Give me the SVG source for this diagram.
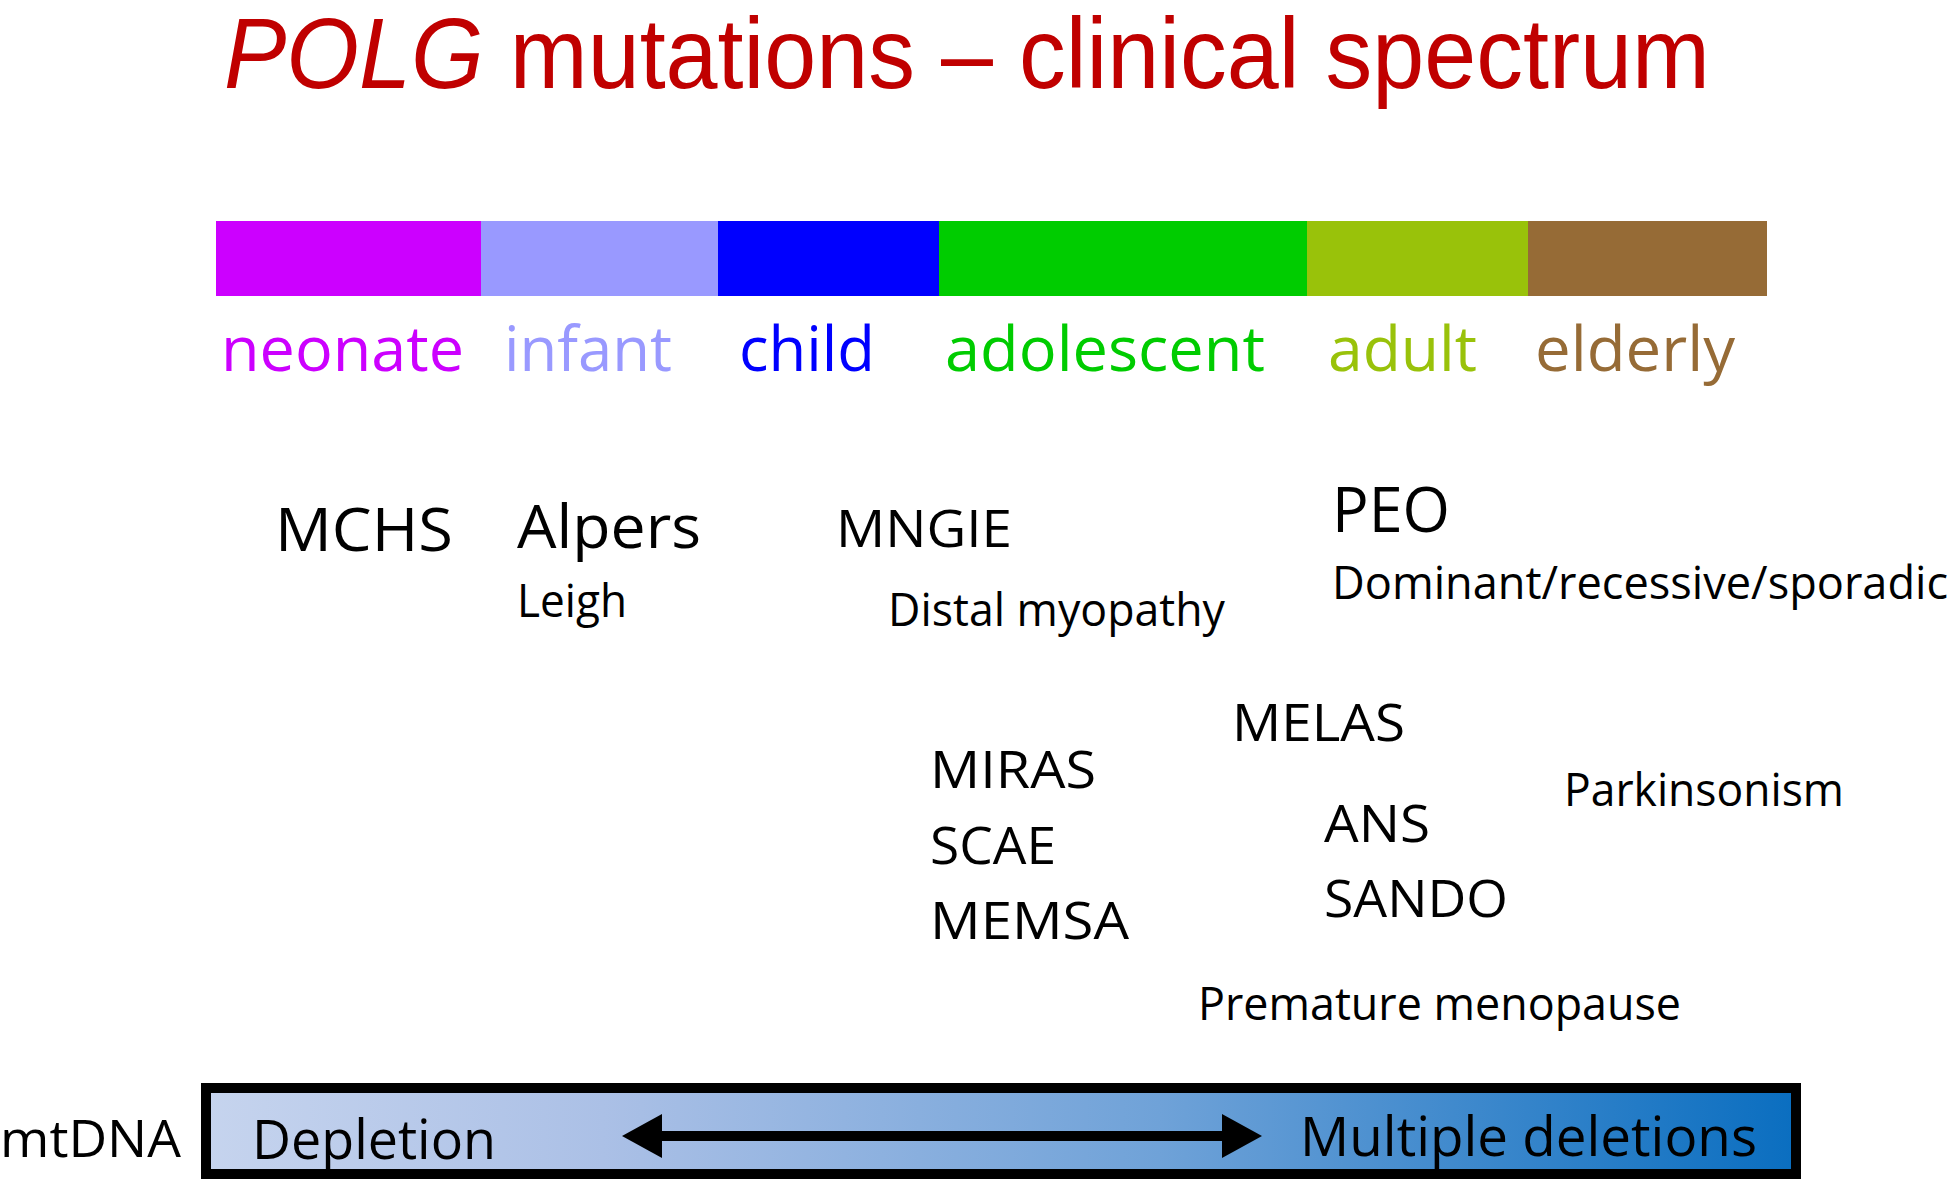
<svg xmlns="http://www.w3.org/2000/svg" width="1950" height="1181" viewBox="0 0 1950 1181">
<style>
.t{font-family:"Open Sans","Liberation Sans",sans-serif;fill:#000}
.lab{font-family:"Open Sans","Liberation Sans",sans-serif;font-size:62px}
</style>
<defs>
<linearGradient id="g" x1="0" x2="1" y1="0" y2="0">
<stop offset="0" stop-color="#C6D4EE"/><stop offset="0.25" stop-color="#ABC0E6"/><stop offset="0.6" stop-color="#6FA2D8"/><stop offset="1" stop-color="#0A6EC0"/>
</linearGradient>
</defs>
<rect width="1950" height="1181" fill="#fff"/>
<text x="224" y="88" font-family="'Liberation Sans Narrow','Liberation Sans',sans-serif" font-size="100" fill="#C00000" textLength="1486" lengthAdjust="spacingAndGlyphs"><tspan font-style="italic">POLG</tspan> mutations – clinical spectrum</text>
<g id="bar">
<rect x="216" y="221" width="265" height="75" fill="#CC00FF"/>
<rect x="481" y="221" width="237" height="75" fill="#9999FF"/>
<rect x="718" y="221" width="221" height="75" fill="#0000FF"/>
<rect x="939" y="221" width="368" height="75" fill="#00CC00"/>
<rect x="1307" y="221" width="221" height="75" fill="#99C20A"/>
<rect x="1528" y="221" width="239" height="75" fill="#966B36"/>
</g>
<g id="ages">
<text class="lab" x="221" y="371" fill="#CC00FF" textLength="243" lengthAdjust="spacingAndGlyphs">neonate</text>
<text class="lab" x="504" y="371" fill="#9999FF" textLength="168" lengthAdjust="spacingAndGlyphs">infant</text>
<text class="lab" x="739" y="371" fill="#0000FF" textLength="136" lengthAdjust="spacingAndGlyphs">child</text>
<text class="lab" x="945" y="371" fill="#00CC00" textLength="320" lengthAdjust="spacingAndGlyphs">adolescent</text>
<text class="lab" x="1328" y="371" fill="#99C20A" textLength="149" lengthAdjust="spacingAndGlyphs">adult</text>
<text class="lab" x="1535" y="371" fill="#966B36" textLength="200" lengthAdjust="spacingAndGlyphs">elderly</text>
</g>
<g id="diseases">
<text class="t" x="275" y="551" font-size="60" textLength="178" lengthAdjust="spacingAndGlyphs">MCHS</text>
<text class="t" x="517" y="548" font-size="60" textLength="184" lengthAdjust="spacingAndGlyphs">Alpers</text>
<text class="t" x="517" y="617" font-size="45" textLength="110" lengthAdjust="spacingAndGlyphs">Leigh</text>
<text class="t" x="836" y="547" font-size="52" textLength="176" lengthAdjust="spacingAndGlyphs">MNGIE</text>
<text class="t" x="888" y="626" font-size="45" textLength="337" lengthAdjust="spacingAndGlyphs">Distal myopathy</text>
<text class="t" x="1332" y="532" font-size="62" textLength="118" lengthAdjust="spacingAndGlyphs">PEO</text>
<text class="t" x="1332" y="599" font-size="45" textLength="616" lengthAdjust="spacingAndGlyphs">Dominant/recessive/sporadic</text>
<text class="t" x="1232" y="741" font-size="52" textLength="173" lengthAdjust="spacingAndGlyphs">MELAS</text>
<text class="t" x="1564" y="806" font-size="45" textLength="280" lengthAdjust="spacingAndGlyphs">Parkinsonism</text>
<text class="t" x="930" y="788" font-size="52" textLength="166" lengthAdjust="spacingAndGlyphs">MIRAS</text>
<text class="t" x="930" y="864" font-size="52" textLength="126" lengthAdjust="spacingAndGlyphs">SCAE</text>
<text class="t" x="930" y="939" font-size="52" textLength="199" lengthAdjust="spacingAndGlyphs">MEMSA</text>
<text class="t" x="1324" y="842" font-size="52" textLength="106" lengthAdjust="spacingAndGlyphs">ANS</text>
<text class="t" x="1324" y="917" font-size="52" textLength="184" lengthAdjust="spacingAndGlyphs">SANDO</text>
<text class="t" x="1198" y="1020" font-size="45" textLength="483" lengthAdjust="spacingAndGlyphs">Premature menopause</text>
</g>
<g id="mtdna">
<rect x="206" y="1088" width="1590" height="86" fill="url(#g)" stroke="#000" stroke-width="10"/>
<text class="t" x="0" y="1157" font-size="52" textLength="181" lengthAdjust="spacingAndGlyphs">mtDNA</text>
<text class="t" x="252" y="1159" font-size="54" textLength="244" lengthAdjust="spacingAndGlyphs">Depletion</text>
<text class="t" x="1300" y="1156" font-size="54" textLength="457" lengthAdjust="spacingAndGlyphs">Multiple deletions</text>
</g>
<g id="connectors">
<line x1="662" y1="1136" x2="1222" y2="1136" stroke="#000" stroke-width="10"/>
<polygon points="622,1136 662,1114 662,1158" fill="#000"/>
<polygon points="1262,1136 1222,1114 1222,1158" fill="#000"/>
</g>
</svg>
